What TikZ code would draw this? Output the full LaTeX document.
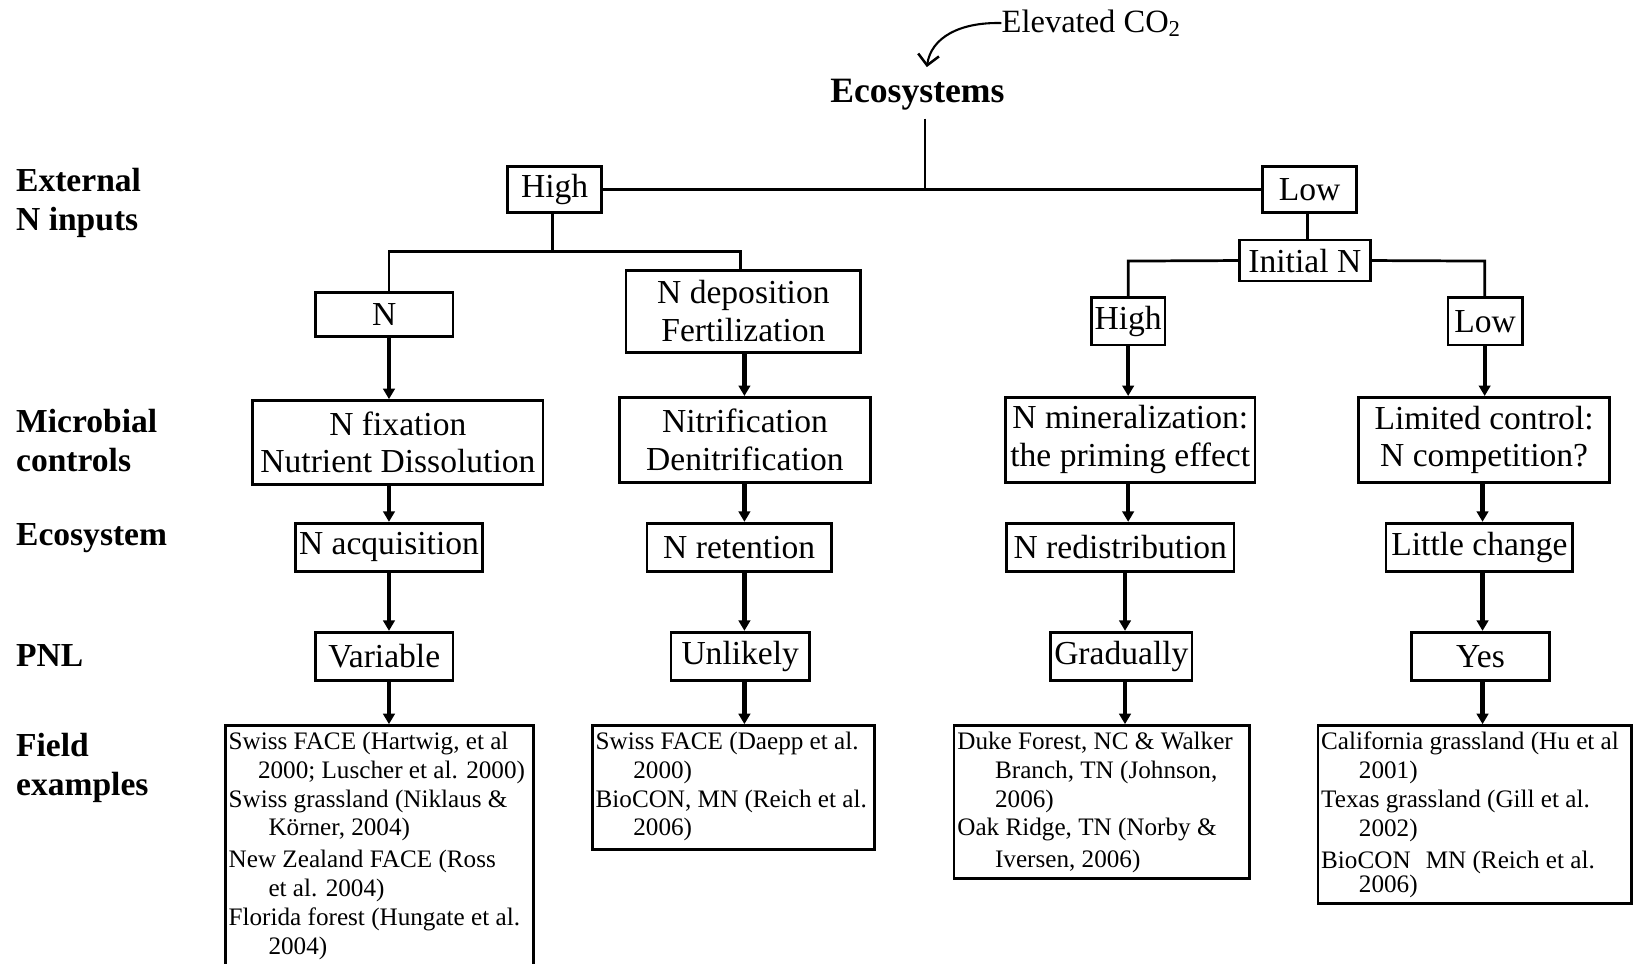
\documentclass[tikz,border=0pt]{standalone}
\usepackage{fontspec}
\setmainfont{Liberation Serif}
\usetikzlibrary{arrows.meta}
\begin{document}
\begin{tikzpicture}[x=0.5pt,y=-0.5pt,
  box/.style={draw, line width=1.3pt, inner sep=0pt, align=center, font=\fontsize{16}{18}\selectfont},
  sz/.style 2 args={minimum width=#1*0.5pt, minimum height=#2*0.5pt},
  lab/.style={anchor=west, inner sep=0pt, align=left, font=\bfseries\fontsize{16}{18.5}\selectfont},
  ftext/.style={anchor=north west, inner sep=0pt, align=left, font=\fontsize{12}{13.75}\selectfont},
  tree/.style={line width=1.3pt},
  treethin/.style={line width=1pt},
  arr/.style={line width=2pt, -{Triangle[length=5pt,width=5.5pt]}},
  co2arr/.style={line width=1pt, -{Straight Barb[length=5pt,width=10pt,line width=1.2pt]}}]
\clip (0,0) rectangle (1568,919);
\fill[white] (0,0) rectangle (1568,919);

% top
\node[anchor=west, inner sep=0pt, font=\fontsize{15.5}{18}\selectfont] (elev) at (955,22) {Elevated CO\textsubscript{2}};
\node[inner sep=0pt, inner ysep=4pt, font=\bfseries\fontsize{17}{20}\selectfont] (eco) at (875,90) {Ecosystems};
\coordinate (co2tip) at (884,64);
\draw[co2arr] (elev.west) .. controls (915,21) and (888,36) .. (co2tip);

% left labels
\node[lab] (lext) at (15,193.5) {External\\N inputs};
\node[lab] (lmic) at (15,420.5) {Microbial\\controls};
\node[lab] (leco) at (15,513) {Ecosystem};
\node[lab] (lpnl) at (15,625) {PNL};
\node[lab] (lfld) at (15,732.5) {Field\\examples};

% boxes
\node[box, sz={90}{44}] (high1) at (529,181) {High};
\node[box, sz={90}{44}] (low1) at (1249,181) {Low};
\node[box, sz={131}{42}] (nbox) at (366.5,300) {N};
\node[box, sz={224}{78}] (ndep) at (709,297) {N deposition\\Fertilization};
\node[box, sz={125}{39}] (initn) at (1244.5,248.5) {Initial N};
\node[box, sz={70}{45}] (high2) at (1076,306.5) {High};
\node[box, sz={71}{45}] (low2) at (1416.5,306.5) {Low};

\node[box, sz={277}{80}] (nfix) at (379.5,422) {N fixation\\Nutrient Dissolution};
\node[box, sz={239}{81}] (nitr) at (710.5,419.5) {Nitrification\\Denitrification};
\node[box, sz={238}{81}] (nmin) at (1078,419.5) {N mineralization:\\the priming effect};
\node[box, sz={239}{81}] (limc) at (1415.5,419.5) {Limited control:\\N competition?};

\node[box, sz={178}{46}] (nacq) at (371,522) {N acquisition};
\node[box, sz={176}{46}] (nret) at (705,522) {N retention};
\node[box, sz={217}{46}] (nred) at (1068.5,522) {N redistribution};
\node[box, sz={178}{46}] (litc) at (1411,522) {Little change};

\node[box, sz={131}{46}] (var) at (366.5,626) {Variable};
\node[box, sz={132}{46}] (unl) at (706,626) {Unlikely};
\node[box, sz={135}{46}] (grad) at (1069.5,626) {Gradually};
\node[box, sz={132}{46}] (yes) at (1412,626) {Yes};

\node[box, sz={294}{248}] (f1) at (362,816) {};
\node[box, sz={269}{118}] (f2) at (699.5,751) {};
\node[box, sz={282}{146}] (f3) at (1051,765) {};
\node[box, sz={299}{170}] (f4) at (1406.5,777) {};

\node[ftext] (f1t) at ([shift={(4,7)}]f1.north west) {Swiss FACE (Hartwig, et al\\\hspace*{14pt}2000; Luscher et al. 2000)\\Swiss grassland (Niklaus \&\\\hspace*{19pt}Körner, 2004)\\[1.5pt]New Zealand FACE (Ross\\\hspace*{19pt}et al. 2004)\\Florida forest (Hungate et al.\\\hspace*{19pt}2004)};
\node[ftext] (f2t) at ([shift={(4,7)}]f2.north west) {Swiss FACE (Daepp et al.\\\hspace*{18pt}2000)\\BioCON, MN (Reich et al.\\\hspace*{18pt}2006)};
\node[ftext] (f3t) at ([shift={(4,7)}]f3.north west) {Duke Forest, NC \& Walker\\\hspace*{18pt}Branch, TN (Johnson,\\\hspace*{18pt}2006)\\Oak Ridge, TN (Norby \&\\[1.5pt]\hspace*{18pt}Iversen, 2006)};
\node[ftext] (f4t) at ([shift={(4,7)}]f4.north west) {California grassland (Hu et al\\\hspace*{18pt}2001)\\Texas grassland (Gill et al.\\\hspace*{18pt}2002)\\[1.5pt]BioCON\hspace{0.6em}MN (Reich et al.\\[-2pt]\hspace*{18pt}2006)};

% tree connectors
\coordinate (j0) at (882,181);
\draw[treethin] (eco.south -| j0) -- (j0);
\draw[tree] (high1.east) -- (low1.west);
\coordinate (j1) at (527,240);
\coordinate (j1l) at (371,240);
\coordinate (j1r) at (706,240);
\draw[tree] (high1.south -| j1) -- (j1);
\draw[tree] (nbox.north -| j1l) -- (j1l) -- (j1r) -- (ndep.north -| j1r);
\coordinate (j2) at (1247,240);
\draw[treethin] (low1.south -| j2) -- (initn.north -| j2);
\coordinate (j3l) at (1076,249);
\coordinate (j3r) at (1416,249);
\draw[tree] (initn.west) -- (j3l) -- (high2.north -| j3l);
\draw[tree] (initn.east) -- (j3r) -- (low2.north -| j3r);

% arrows
\coordinate (ca) at (371,0);
\coordinate (cb) at (710,0);
\coordinate (cc) at (1076,0);
\coordinate (cc2) at (1073,0);
\coordinate (cd) at (1416,0);
\coordinate (cd2) at (1414,0);
\draw[arr] (nbox.south -| ca) -- (nfix.north -| ca);
\draw[arr] (ndep.south -| cb) -- (nitr.north -| cb);
\draw[arr] (high2.south -| cc) -- (nmin.north -| cc);
\draw[arr] (low2.south -| cd) -- (limc.north -| cd);

\draw[arr] (nfix.south -| ca) -- (nacq.north -| ca);
\draw[arr] (nitr.south -| cb) -- (nret.north -| cb);
\draw[arr] (nmin.south -| cc) -- (nred.north -| cc);
\draw[arr] (limc.south -| cd2) -- (litc.north -| cd2);

\draw[arr] (nacq.south -| ca) -- (var.north -| ca);
\draw[arr] (nret.south -| cb) -- (unl.north -| cb);
\draw[arr] (nred.south -| cc2) -- (grad.north -| cc2);
\draw[arr] (litc.south -| cd2) -- (yes.north -| cd2);

\draw[arr] (var.south -| ca) -- (f1.north -| ca);
\draw[arr] (unl.south -| cb) -- (f2.north -| cb);
\draw[arr] (grad.south -| cc2) -- (f3.north -| cc2);
\draw[arr] (yes.south -| cd2) -- (f4.north -| cd2);
\end{tikzpicture}
\end{document}
